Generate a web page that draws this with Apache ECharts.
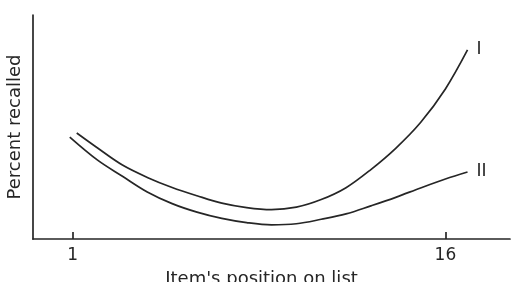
<!DOCTYPE html>
<html>
<head>
<meta charset="utf-8">
<script src="https://cdn.jsdelivr.net/npm/echarts@6/dist/echarts.min.js"></script>
<style>
  html, body { margin: 0; padding: 0; background: #fff; }
  #chart { width: 517px; height: 282px; }
</style>
</head>
<body>
<div id="chart"></div>
<script>
// item positions and recall values
const xTicks = [1, 16];
const posI = [1.16, 2, 3, 4, 5, 6, 7, 8, 9, 10, 11, 12, 13, 14, 15, 16, 16.89];
const recallI = [47.3, 40.6, 33.0, 27.5, 23.0, 19.3, 16.0, 14.0, 13.1, 14.2, 17.6, 22.9, 31.0, 40.5, 52.0, 67.0, 84.4];
const posII = [0.88, 2, 3, 4, 5, 6, 7, 8, 9, 10, 11, 12, 13, 14, 15, 16, 16.89];
const recallII = [45.5, 35.2, 28.0, 21.0, 15.8, 12.0, 9.2, 7.3, 6.3, 6.8, 8.8, 11.2, 14.8, 18.6, 22.8, 26.8, 29.9];

const chart = echarts.init(document.getElementById('chart'));

const ink = '#262626';
const font = 'DejaVu Sans';

function curve(name, xs, ys) {
  return {
    name: name,
    type: 'line',
    data: xs.map((x, i) => [x, ys[i]]),
    smooth: 0.35,
    symbol: 'none',
    lineStyle: { color: ink, width: 1.7 },
    endLabel: {
      show: true,
      formatter: '{a}',
      distance: 9,
      color: ink,
      fontFamily: font,
      fontSize: 17
    }
  };
}

chart.setOption({
  animation: false,
  grid: { left: 33, right: 7, top: 15, bottom: 43, containLabel: false, outerBoundsMode: 'none' },
  xAxis: {
    type: 'value',
    min: -0.6,
    max: 18.6,
    name: "Item's position on list",
    nameLocation: 'middle',
    nameGap: 31,
    nameTextStyle: { color: ink, fontFamily: font, fontSize: 18, padding: [0, 20, 0, 0] },
    axisLine: { onZero: false, lineStyle: { color: ink, width: 1.7 } },
    axisTick: { show: true, inside: true, length: 7, customValues: xTicks, lineStyle: { color: ink, width: 1.7 } },
    axisLabel: { customValues: xTicks, color: ink, fontFamily: font, fontSize: 17, margin: 8 },
    splitLine: { show: false }
  },
  yAxis: {
    type: 'value',
    min: 0,
    max: 100,
    name: 'Percent recalled',
    nameLocation: 'middle',
    nameGap: 9,
    nameTextStyle: { color: ink, fontFamily: font, fontSize: 18 },
    axisLine: { show: true, onZero: false, lineStyle: { color: ink, width: 1.7 } },
    axisTick: { show: false },
    axisLabel: { show: false },
    splitLine: { show: false }
  },
  series: [
    curve('I', posI, recallI),
    curve('II', posII, recallII)
  ]
});
</script>
</body>
</html>
